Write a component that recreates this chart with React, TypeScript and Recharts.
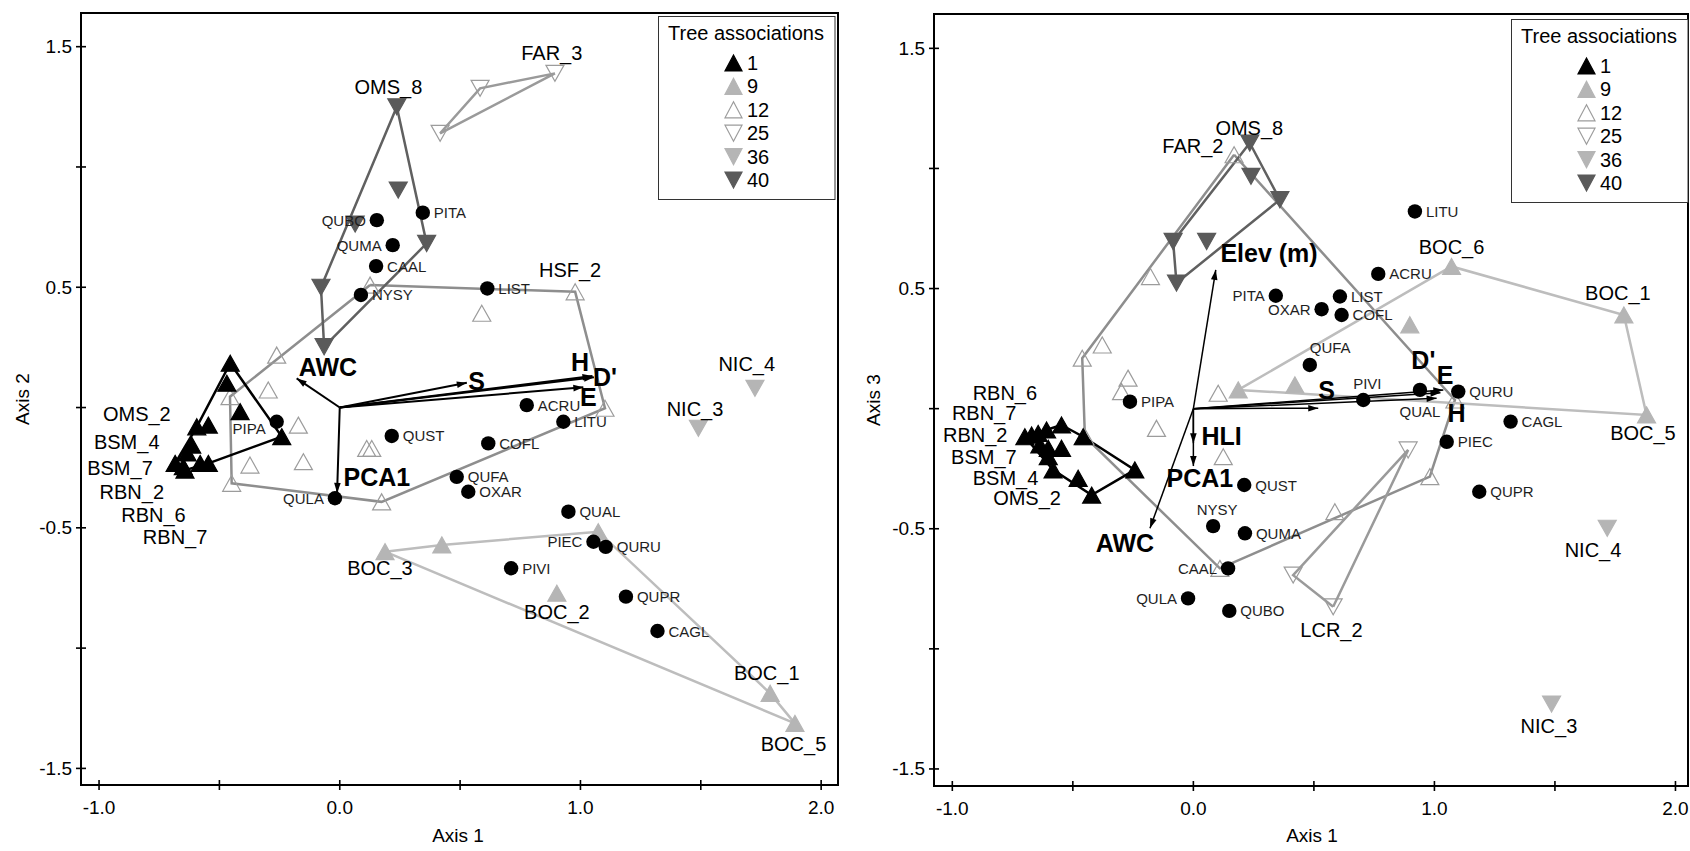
import React from 'react';
import { ScatterChart, Scatter, XAxis, YAxis, ReferenceArea } from 'recharts';

// ---------------- shared ----------------
const X_TICKS = [-1, -0.5, 0, 0.5, 1, 1.5, 2];
const Y_TICKS = [-1.5, -1, -0.5, 0, 0.5, 1, 1.5];
const X_TICK_LABELS = [-1, 0, 1, 2];
const Y_TICK_LABELS = [1.5, 0.5, -0.5, -1.5];
const LEGEND_TITLE = 'Tree associations';
const LEGEND_GROUPS = ['1', '9', '12', '25', '36', '40'];

// ---------------- Left panel (Axis 1 vs Axis 2) ----------------
const L_G1 = [[-0.455, 0.184], [-0.469, 0.101], [-0.414, -0.017], [-0.241, -0.121], [-0.546, -0.073], [-0.594, -0.08], [-0.615, -0.156], [-0.634, -0.189], [-0.684, -0.232], [-0.65, -0.246], [-0.643, -0.26], [-0.58, -0.232], [-0.546, -0.232]];
const L_G1_HULL = [0, 3, 12, 10, 8, 5, 0];
const L_G9 = [[0.188, -0.599], [0.424, -0.571], [1.074, -0.516], [0.902, -0.772], [1.788, -1.188], [1.891, -1.313]];
const L_G9_HULL = [0, 1, 2, 4, 5, 0];
const L_G12 = [[0.978, 0.481], [0.59, 0.392], [0.126, 0.509], [-0.262, 0.218], [-0.297, 0.073], [-0.456, 0.045], [-0.172, -0.073], [-0.373, -0.239], [-0.151, -0.225], [-0.449, -0.315], [0.112, -0.17], [0.133, -0.17], [0.174, -0.392], [1.102, -0.003]];
const L_G12_HULL = [2, 0, 13, 12, 9, 5, 2];
const L_G25 = [[0.894, 1.389], [0.583, 1.327], [0.417, 1.14]];
const L_G25_HULL = [0, 1, 2, 0];
const L_G36 = [[1.725, 0.08], [1.49, -0.086]];
const L_G36_HULL: number[] = [];
const L_G40 = [[0.237, 1.25], [0.243, 0.904], [0.064, 0.763], [-0.078, 0.5], [-0.065, 0.253], [0.361, 0.682]];
const L_G40_HULL = [0, 3, 4, 5, 0];
const L_SPECIES: [string, number, number, string][] = [
  ['QUBO', 0.154, 0.779, 'l'], ['QUMA', 0.22, 0.675, 'l'], ['CAAL', 0.151, 0.588, 'r'], ['NYSY', 0.088, 0.468, 'r'],
  ['PITA', 0.345, 0.81, 'r'], ['LIST', 0.613, 0.495, 'r'], ['ACRU', 0.777, 0.01, 'r'], ['LITU', 0.929, -0.059, 'r'],
  ['QUST', 0.216, -0.118, 'r'], ['COFL', 0.617, -0.149, 'r'], ['QUFA', 0.486, -0.288, 'r'], ['OXAR', 0.534, -0.35, 'r'],
  ['QUAL', 0.95, -0.433, 'r'], ['PIEC', 1.054, -0.558, 'l'], ['QURU', 1.105, -0.579, 'r'], ['PIVI', 0.712, -0.668, 'r'],
  ['QUPR', 1.189, -0.786, 'r'], ['CAGL', 1.32, -0.929, 'r'], ['QULA', -0.02, -0.377, 'l'], ['PIPA', -0.262, -0.059, 'bl'],
];
const L_VECTORS: [string, number, number][] = [
  ['AWC', -0.179, 0.121], ['PCA1', -0.011, -0.355], ['S', 0.528, 0.103], ['H', 1.05, 0.131], ["D'", 1.056, 0.126], ['E', 1.012, 0.084],
];
const L_VECTOR_LABELS: [string, number, number][] = [
  ['AWC', -0.049, 0.17], ['PCA1', 0.154, -0.288], ['S', 0.569, 0.111], ['H', 0.998, 0.188], ["D'", 1.102, 0.128], ['E', 1.033, 0.042],
];
const L_SITE_LABELS: [string, number, number][] = [
  ['OMS_8', 0.202, 1.333], ['FAR_3', 0.881, 1.473], ['HSF_2', 0.957, 0.571], ['NIC_4', 1.691, 0.183], ['NIC_3', 1.476, -0.007],
  ['OMS_2', -0.843, -0.027], ['BSM_4', -0.885, -0.142], ['BSM_7', -0.913, -0.253], ['RBN_2', -0.864, -0.35], ['RBN_6', -0.774, -0.447],
  ['RBN_7', -0.684, -0.537], ['BOC_3', 0.167, -0.667], ['BOC_2', 0.902, -0.849], ['BOC_1', 1.774, -1.102], ['BOC_5', 1.885, -1.4],
];

// ---------------- Right panel (Axis 1 vs Axis 3) ----------------
const R_G1 = [[-0.699, -0.117], [-0.671, -0.11], [-0.644, -0.103], [-0.609, -0.089], [-0.547, -0.068], [-0.457, -0.117], [-0.637, -0.151], [-0.602, -0.165], [-0.547, -0.165], [-0.602, -0.2], [-0.582, -0.255], [-0.478, -0.29], [-0.243, -0.255], [-0.422, -0.36]];
const R_G1_HULL = [4, 5, 12, 13, 10, 0, 4];
const R_G9 = [[0.186, 0.078], [0.421, 0.099], [1.071, 0.592], [0.898, 0.349], [1.786, 0.39], [1.88, -0.026]];
const R_G9_HULL = [0, 2, 4, 5, 0];
const R_G12 = [[0.169, 1.057], [-0.178, 0.55], [-0.378, 0.265], [-0.461, 0.21], [-0.271, 0.127], [-0.298, 0.071], [0.103, 0.064], [-0.153, -0.082], [0.124, -0.2], [0.11, -0.665], [0.587, -0.429], [0.981, -0.283], [1.085, 0.036], [-0.45, -0.117]];
const R_G12_HULL = [0, 12, 11, 9, 13, 3, 0];
const R_G25 = [[0.58, -0.825], [0.414, -0.693], [0.891, -0.172]];
const R_G25_HULL = [0, 1, 2, 0];
const R_G36 = [[1.717, -0.498], [1.486, -1.23]];
const R_G36_HULL: number[] = [];
const R_G40 = [[0.234, 1.106], [0.239, 0.967], [0.359, 0.87], [-0.084, 0.696], [0.055, 0.696], [-0.07, 0.523]];
const R_G40_HULL = [0, 2, 5, 3, 0];
const R_SPECIES: [string, number, number, string][] = [
  ['LITU', 0.919, 0.821, 'r'], ['ACRU', 0.767, 0.561, 'r'], ['PITA', 0.342, 0.47, 'l'], ['OXAR', 0.532, 0.414, 'l'],
  ['LIST', 0.608, 0.467, 'r'], ['COFL', 0.615, 0.39, 'r'], ['QUFA', 0.483, 0.182, 'tr'], ['PIVI', 0.705, 0.036, 't'],
  ['QUAL', 0.94, 0.078, 'b'], ['QURU', 1.099, 0.071, 'r'], ['CAGL', 1.316, -0.054, 'r'], ['PIEC', 1.051, -0.138, 'r'],
  ['QUPR', 1.186, -0.346, 'r'], ['QUST', 0.211, -0.318, 'r'], ['NYSY', 0.082, -0.489, 't'], ['QUMA', 0.214, -0.519, 'r'],
  ['CAAL', 0.144, -0.665, 'l'], ['QULA', -0.022, -0.79, 'l'], ['QUBO', 0.149, -0.842, 'r'], ['PIPA', -0.263, 0.029, 'r'],
];
const R_VECTORS: [string, number, number][] = [
  ['Elev (m)', 0.093, 0.578], ['AWC', -0.18, -0.498], ['HLI', 0, -0.144], ['PCA1', 0, -0.239], ['S', 0.518, 0.002],
  ["D'", 1.037, 0.078], ['E', 1.025, 0.066], ['H', 1.009, 0.043],
];
const R_VECTOR_LABELS: [string, number, number][] = [
  ['Elev (m)', 0.314, 0.648], ['AWC', -0.284, -0.558], ['HLI', 0.117, -0.114], ['PCA1', 0.027, -0.29], ['S', 0.553, 0.078],
  ["D'", 0.954, 0.203], ['E', 1.044, 0.14], ['H', 1.092, -0.019],
];
const R_SITE_LABELS: [string, number, number][] = [
  ['OMS_8', 0.232, 1.17], ['FAR_2', -0.002, 1.092], ['BOC_6', 1.071, 0.675], ['BOC_1', 1.761, 0.482], ['BOC_5', 1.865, -0.1],
  ['RBN_6', -0.782, 0.064], ['RBN_7', -0.868, -0.019], ['RBN_2', -0.905, -0.11], ['BSM_7', -0.869, -0.2], ['BSM_4', -0.779, -0.29],
  ['OMS_2', -0.69, -0.373], ['LCR_2', 0.573, -0.92], ['NIC_4', 1.658, -0.588], ['NIC_3', 1.475, -1.32],
];

// ---------------- styles ----------------
const GROUP_STYLE: Record<string, { dir: 'up' | 'down'; fill: string; stroke: string; line: string }> = {
  '1': { dir: 'up', fill: '#000000', stroke: '#000000', line: '#000000' },
  '9': { dir: 'up', fill: '#b5b5b5', stroke: '#b5b5b5', line: '#bdbdbd' },
  '12': { dir: 'up', fill: 'none', stroke: '#9c9c9c', line: '#8e8e8e' },
  '25': { dir: 'down', fill: 'none', stroke: '#9c9c9c', line: '#9a9a9a' },
  '36': { dir: 'down', fill: '#b5b5b5', stroke: '#b5b5b5', line: '#bdbdbd' },
  '40': { dir: 'down', fill: '#5a5a5a', stroke: '#5a5a5a', line: '#606060' },
};
const FONT = "'Liberation Sans', Arial, Helvetica, sans-serif";

function triPoints(cx: number, cy: number, dir: 'up' | 'down', w = 9, h = 16) {
  return dir === 'up'
    ? `${cx},${cy - h / 2} ${cx + w},${cy + h / 2} ${cx - w},${cy + h / 2}`
    : `${cx - w},${cy - h / 2} ${cx + w},${cy - h / 2} ${cx},${cy + h / 2}`;
}

const makeTriShape = (g: string) => (props: any) => {
  const { cx, cy } = props;
  if (cx == null || cy == null) return <g />;
  const st = GROUP_STYLE[g];
  return <polygon points={triPoints(cx, cy, st.dir)} fill={st.fill} stroke={st.stroke} strokeWidth={1.2} />;
};

const emptyShape = () => <g />;

const arrowShape = (props: any) => {
  const { cx, cy, payload } = props;
  if (!payload || !payload.tip || cx == null) return <g />;
  const ang = Math.atan2(-payload.y, payload.x);
  const L = 10;
  const W = 3.3;
  const bx = cx - L * Math.cos(ang);
  const by = cy - L * Math.sin(ang);
  const px = -Math.sin(ang) * W;
  const py = Math.cos(ang) * W;
  return <polygon points={`${cx},${cy} ${bx + px},${by + py} ${bx - px},${by - py}`} fill="#000" />;
};

const speciesShape = (props: any) => {
  const { cx, cy, payload } = props;
  if (cx == null || cy == null) return <g />;
  const s = payload.s;
  let tx = cx + 11;
  let ty = cy;
  let anchor: 'start' | 'end' | 'middle' = 'start';
  if (s === 'l') { tx = cx - 11; anchor = 'end'; }
  else if (s === 'bl') { tx = cx - 11; ty = cy + 7; anchor = 'end'; }
  else if (s === 't') { tx = cx + 4; ty = cy - 17; anchor = 'middle'; }
  else if (s === 'tr') { tx = cx; ty = cy - 17; anchor = 'start'; }
  else if (s === 'b') { tx = cx; ty = cy + 22; anchor = 'middle'; }
  return (
    <g>
      <circle cx={cx} cy={cy} r={7.2} fill="#000" />
      <text x={tx} y={ty} textAnchor={anchor} dominantBaseline="central" fontSize={15} fill="#1e1e1e" fontFamily={FONT}>{payload.t}</text>
    </g>
  );
};

const siteLabelShape = (props: any) => {
  const { cx, cy, payload } = props;
  if (cx == null) return <g />;
  return <text x={cx} y={cy} textAnchor="middle" dominantBaseline="central" fontSize={20} fill="#000" fontFamily={FONT}>{payload.t}</text>;
};

const vectorLabelShape = (props: any) => {
  const { cx, cy, payload } = props;
  if (cx == null) return <g />;
  return <text x={cx} y={cy} textAnchor="middle" dominantBaseline="central" fontSize={25} fontWeight="bold" fill="#000" fontFamily={FONT}>{payload.t}</text>;
};

const near = (a: number[], v: number) => a.some((l) => Math.abs(l - v) < 1e-6);

const YTick = (props: any) => {
  const { x, y, payload } = props;
  const ax = x + 9;
  const v = payload.value as number;
  return (
    <g>
      <line x1={ax - 5} x2={ax + 5} y1={y} y2={y} stroke="#000" strokeWidth={1.6} />
      {near(Y_TICK_LABELS, v) && (
        <text x={x} y={y} textAnchor="end" dominantBaseline="central" fontSize={19} fill="#000" fontFamily={FONT}>{v.toFixed(1)}</text>
      )}
    </g>
  );
};

const XTick = (props: any) => {
  const { x, y, payload } = props;
  const ay = y - 9;
  const v = payload.value as number;
  return (
    <g>
      <line x1={x} x2={x} y1={ay - 5} y2={ay + 5} stroke="#000" strokeWidth={1.6} />
      {near(X_TICK_LABELS, v) && (
        <text x={x} y={ay + 22} textAnchor="middle" dominantBaseline="central" fontSize={19} fill="#000" fontFamily={FONT}>{v.toFixed(1)}</text>
      )}
    </g>
  );
};

type PanelDef = {
  groups: { id: string; pts: number[][]; hull: number[] }[];
  species: [string, number, number, string][];
  vectors: [string, number, number][];
  vectorLabels: [string, number, number][];
  siteLabels: [string, number, number][];
  xDomain: [number, number];
  yDomain: [number, number];
  margin: { top: number; right: number; bottom: number; left: number };
  yTitle: string;
  yTitleX: number;
  yTitleY: number;
  xTitleX: number;
  xTitleY: number;
  vecWidth: number;
};

const LEFT: PanelDef = {
  groups: [
    { id: '12', pts: L_G12, hull: L_G12_HULL },
    { id: '25', pts: L_G25, hull: L_G25_HULL },
    { id: '9', pts: L_G9, hull: L_G9_HULL },
    { id: '36', pts: L_G36, hull: L_G36_HULL },
    { id: '40', pts: L_G40, hull: L_G40_HULL },
    { id: '1', pts: L_G1, hull: L_G1_HULL },
  ],
  species: L_SPECIES,
  vectors: L_VECTORS,
  vectorLabels: L_VECTOR_LABELS,
  siteLabels: L_SITE_LABELS,
  xDomain: [-1.075, 2.07],
  yDomain: [-1.569, 1.64],
  margin: { top: 13, right: 7, bottom: 26, left: 21 },
  yTitle: 'Axis 2',
  yTitleX: 22,
  yTitleY: 399,
  xTitleX: 458,
  xTitleY: 835,
  vecWidth: 2,
};

const RIGHT: PanelDef = {
  groups: [
    { id: '12', pts: R_G12, hull: R_G12_HULL },
    { id: '25', pts: R_G25, hull: R_G25_HULL },
    { id: '9', pts: R_G9, hull: R_G9_HULL },
    { id: '36', pts: R_G36, hull: R_G36_HULL },
    { id: '40', pts: R_G40, hull: R_G40_HULL },
    { id: '1', pts: R_G1, hull: R_G1_HULL },
  ],
  species: R_SPECIES,
  vectors: R_VECTORS,
  vectorLabels: R_VECTOR_LABELS,
  siteLabels: R_SITE_LABELS,
  xDomain: [-1.076, 2.052],
  yDomain: [-1.571, 1.643],
  margin: { top: 14, right: 2, bottom: 25, left: 29 },
  yTitle: 'Axis 3',
  yTitleX: 28,
  yTitleY: 400,
  xTitleX: 467,
  xTitleY: 835,
  vecWidth: 1.5,
};

function Panel({ def }: { def: PanelDef }) {
  const { xDomain, yDomain } = def;
  return (
    <ScatterChart width={845} height={851} margin={def.margin}>
      <XAxis
        type="number"
        dataKey="x"
        domain={xDomain}
        allowDataOverflow
        ticks={X_TICKS}
        interval={0}
        tickSize={5}
        tickMargin={4}
        tickLine={false}
        height={40}
        axisLine={{ stroke: '#000', strokeWidth: 2 }}
        tick={XTick}
        label={() => (
          <text x={def.xTitleX} y={def.xTitleY} textAnchor="middle" dominantBaseline="central" fontSize={19} fill="#000" fontFamily={FONT}>Axis 1</text>
        )}
      />
      <YAxis
        type="number"
        dataKey="y"
        domain={yDomain}
        allowDataOverflow
        ticks={Y_TICKS}
        interval={0}
        tickSize={5}
        tickMargin={4}
        tickLine={false}
        width={60}
        axisLine={{ stroke: '#000', strokeWidth: 2 }}
        tick={YTick}
        label={() => (
          <text x={def.yTitleX} y={def.yTitleY} textAnchor="middle" dominantBaseline="central" fontSize={19} fill="#000" fontFamily={FONT} transform={`rotate(-90 ${def.yTitleX} ${def.yTitleY})`}>{def.yTitle}</text>
        )}
      />
      <ReferenceArea x1={xDomain[0]} x2={xDomain[1]} y1={yDomain[0]} y2={yDomain[1]} fill="none" fillOpacity={0} stroke="#000" strokeWidth={2} />
      {def.groups.filter((g) => g.hull.length > 0).map((g) => (
        <Scatter
          key={'hull' + g.id}
          data={g.hull.map((i) => ({ x: g.pts[i][0], y: g.pts[i][1] }))}
          line={{ stroke: GROUP_STYLE[g.id].line, strokeWidth: 2.5 }}
          lineJointType="linear"
          shape={emptyShape}
          isAnimationActive={false}
        />
      ))}
      {def.groups.map((g) => (
        <Scatter
          key={'pts' + g.id}
          data={g.pts.map(([x, y]) => ({ x, y }))}
          shape={makeTriShape(g.id)}
          isAnimationActive={false}
        />
      ))}
      {def.vectors.map(([name, x, y]) => (
        <Scatter
          key={'vec' + name}
          data={[{ x: 0, y: 0 }, { x, y, tip: true }]}
          line={{ stroke: '#000', strokeWidth: def.vecWidth }}
          lineJointType="linear"
          shape={arrowShape}
          isAnimationActive={false}
        />
      ))}
      <Scatter
        data={def.species.map(([t, x, y, s]) => ({ x, y, t, s }))}
        shape={speciesShape}
        isAnimationActive={false}
      />
      <Scatter
        data={def.siteLabels.map(([t, x, y]) => ({ x, y, t }))}
        shape={siteLabelShape}
        isAnimationActive={false}
      />
      <Scatter
        data={def.vectorLabels.map(([t, x, y]) => ({ x, y, t }))}
        shape={vectorLabelShape}
        isAnimationActive={false}
      />
    </ScatterChart>
  );
}

function LegendBox({ left, top }: { left: number; top: number }) {
  return (
    <svg style={{ position: 'absolute', left, top }} width={178} height={185}>
      <rect x={0.5} y={0.5} width={176.5} height={183} fill="#fff" stroke="#333" strokeWidth={1} />
      <text x={88} y={17} textAnchor="middle" dominantBaseline="central" fontSize={20} fill="#000" fontFamily={FONT}>{LEGEND_TITLE}</text>
      {LEGEND_GROUPS.map((g, i) => {
        const cy = 47 + i * 23.4;
        const st = GROUP_STYLE[g];
        return (
          <g key={g}>
            <polygon points={triPoints(75.5, cy, st.dir, 8.5, 16)} fill={st.fill} stroke={st.stroke} strokeWidth={1.2} />
            <text x={89} y={cy} dominantBaseline="central" fontSize={20} fill="#000" fontFamily={FONT}>{g}</text>
          </g>
        );
      })}
    </svg>
  );
}

export default function App() {
  return (
    <div style={{ position: 'absolute', left: 0, top: 0, width: 1690, height: 851, background: '#fff', fontFamily: FONT }}>
      <div style={{ position: 'absolute', left: 0, top: 0 }}>
        <Panel def={LEFT} />
      </div>
      <div style={{ position: 'absolute', left: 845, top: 0 }}>
        <Panel def={RIGHT} />
      </div>
      <LegendBox left={657.5} top={16} />
      <LegendBox left={1510.5} top={19} />
    </div>
  );
}
